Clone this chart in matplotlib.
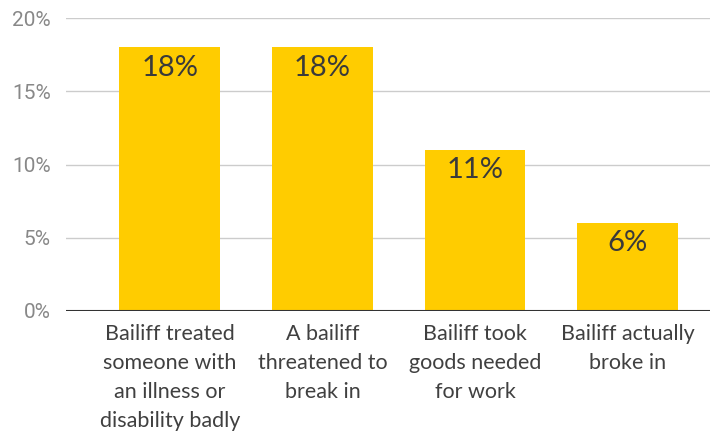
import matplotlib.pyplot as plt
from matplotlib.ticker import FuncFormatter

categories = [
    "Bailiff treated\nsomeone with\nan illness or\ndisability badly",
    "A bailiff\nthreatened to\nbreak in",
    "Bailiff took\ngoods needed\nfor work",
    "Bailiff actually\nbroke in",
]
values = [18, 18, 11, 6]
value_labels = ["18%", "18%", "11%", "6%"]
yticks = [0, 5, 10, 15, 20]

fig = plt.figure(figsize=(7.1, 4.33), dpi=100)
ax = fig.add_axes([66 / 710, 1 - 311 / 433, 644 / 710, 293 / 433])

x = list(range(len(categories)))
ax.bar(x, values, width=0.66, color="#FFCC00", zorder=2)

for xi, v, lab in zip(x, values, value_labels):
    ax.text(xi, v - 0.5, lab, ha="center", va="top", fontsize=21,
            family=["Lato", "DejaVu Sans"], color="#3a3a3a", zorder=3)

ax.set_xlim(-0.68, 3.54)
ax.set_ylim(0, 20)
ax.set_yticks(yticks)
ax.yaxis.set_major_formatter(FuncFormatter(lambda v, p: f"{v:.0f}%"))
ax.grid(axis="y", color="#cccccc", linewidth=1, zorder=0)
ax.axhline(0, color="#333333", linewidth=1.5, zorder=3)

for s in ax.spines.values():
    s.set_visible(False)
ax.tick_params(axis="y", length=0, pad=11, labelsize=15, labelcolor="#888888")
ax.tick_params(axis="x", length=0, pad=9)
for t in ax.get_yticklabels():
    t.set_family("Roboto")

ax.set_xticks(x)
ax.set_xticklabels(categories, fontsize=15.5, family=["Lato", "DejaVu Sans"],
                   color="#404040", linespacing=1.58)

fig.savefig("out.png", dpi=100)
